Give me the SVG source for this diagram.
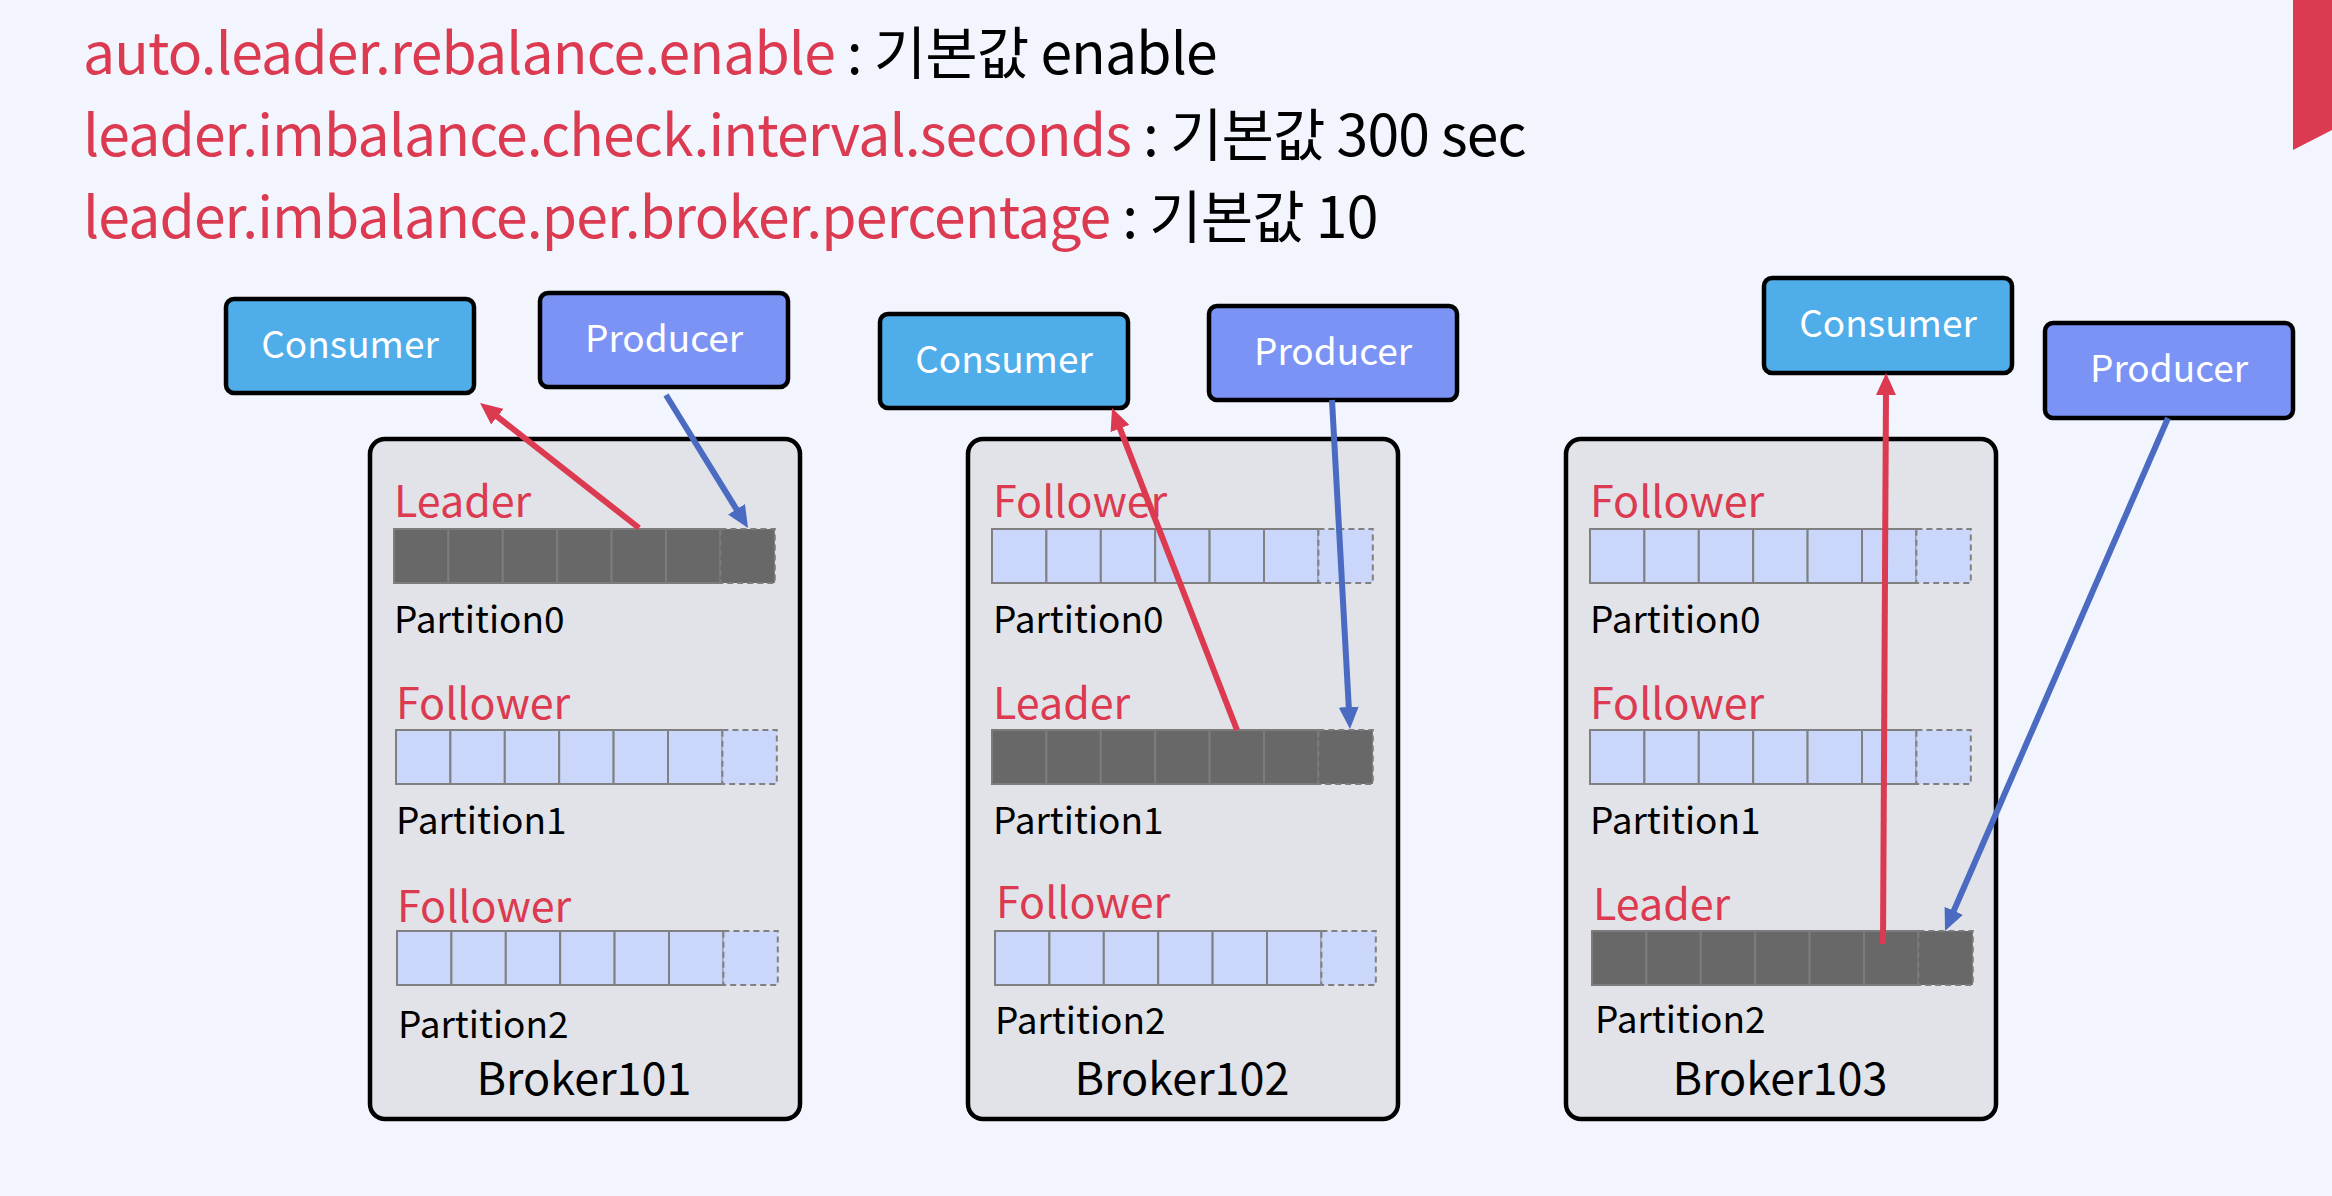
<svg xmlns="http://www.w3.org/2000/svg" width="2332" height="1196" viewBox="0 0 2332 1196">
<style>
text{font-family:"Noto Sans CJK KR","Noto Sans",sans-serif}
.title{font-size:57px;letter-spacing:-0.85px}
.red{fill:#DB3A50}
.blk{fill:#000}
.role{font-size:43px;fill:#DB3A50}
.part{font-size:37px;fill:#000}
.bname{font-size:45px;fill:#000;text-anchor:middle}
.broker{fill:#E2E3E8;stroke:#000;stroke-width:4.5}
.cons{fill:#4FADEA;stroke:#000;stroke-width:4.5}
.prod{fill:#7B93F5;stroke:#000;stroke-width:4.5}
.btxt{font-size:37px;fill:#fff;text-anchor:middle}
.lc{fill:#CAD7FA;stroke:#808080;stroke-width:2}
.dc{fill:#686868;stroke:#7C7C7C;stroke-width:2}
.ld{fill:#CAD7FA;stroke:#808080;stroke-width:2;stroke-dasharray:6 4}
.dd{fill:#686868;stroke:#7C7C7C;stroke-width:2;stroke-dasharray:6 4}
.ar{stroke:#DB3A50;stroke-width:6;fill:none}
.ab{stroke:#4A6BC1;stroke-width:6;fill:none}
</style>
<defs>
<marker id="mr" markerUnits="userSpaceOnUse" markerWidth="22" markerHeight="20" refX="6" refY="10" orient="auto"><path d="M0,0 L22,10 L0,20 z" fill="#DB3A50"/></marker>
<marker id="mb" markerUnits="userSpaceOnUse" markerWidth="22" markerHeight="20" refX="6" refY="10" orient="auto"><path d="M0,0 L22,10 L0,20 z" fill="#4A6BC1"/></marker>
<g id="lbar"><rect class="lc" x="0" y="0" width="54.4" height="54"/><rect class="lc" x="54.4" y="0" width="54.4" height="54"/><rect class="lc" x="108.8" y="0" width="54.4" height="54"/><rect class="lc" x="163.2" y="0" width="54.4" height="54"/><rect class="lc" x="217.6" y="0" width="54.4" height="54"/><rect class="lc" x="272" y="0" width="54.4" height="54"/><rect class="ld" x="326.4" y="0" width="54.4" height="54"/></g>
<g id="dbar"><rect class="dc" x="0" y="0" width="54.4" height="54"/><rect class="dc" x="54.4" y="0" width="54.4" height="54"/><rect class="dc" x="108.8" y="0" width="54.4" height="54"/><rect class="dc" x="163.2" y="0" width="54.4" height="54"/><rect class="dc" x="217.6" y="0" width="54.4" height="54"/><rect class="dc" x="272" y="0" width="54.4" height="54"/><rect class="dd" x="326.4" y="0" width="54.4" height="54"/></g>
</defs>
<rect x="0" y="0" width="2332" height="1196" fill="#F2F5FD"/>
<polygon points="2293,0 2332,0 2332,130 2293,150" fill="#DB3A50"/>
<g id="title">
<text class="title" x="83" y="74"><tspan class="red">auto.leader.rebalance.enable</tspan><tspan class="blk"> : 기본값 enable</tspan></text>
<text class="title" x="83" y="156"><tspan class="red">leader.imbalance.check.interval.seconds</tspan><tspan class="blk"> : 기본값 300 sec</tspan></text>
<text class="title" x="83" y="238"><tspan class="red">leader.imbalance.per.broker.percentage</tspan><tspan class="blk"> : 기본값 10</tspan></text>
</g>
<g id="broker101">
<rect class="broker" x="370" y="439" width="430" height="680" rx="15"/>
<text class="role" x="394" y="517">Leader</text>
<use href="#dbar" x="394" y="529"/>
<text class="part" x="394" y="633">Partition0</text>
<text class="role" x="396" y="719">Follower</text>
<use href="#lbar" x="396" y="730"/>
<text class="part" x="396" y="834">Partition1</text>
<text class="role" x="397" y="922">Follower</text>
<use href="#lbar" x="397" y="931"/>
<text class="part" x="398" y="1038">Partition2</text>
<text class="bname" x="584" y="1095">Broker101</text>
</g>
<g id="broker102">
<rect class="broker" x="968" y="439" width="430" height="680" rx="15"/>
<text class="role" x="993" y="517">Follower</text>
<use href="#lbar" x="992" y="529"/>
<text class="part" x="993" y="633">Partition0</text>
<text class="role" x="993" y="719">Leader</text>
<use href="#dbar" x="992" y="730"/>
<text class="part" x="993" y="834">Partition1</text>
<text class="role" x="996" y="918">Follower</text>
<use href="#lbar" x="995" y="931"/>
<text class="part" x="995" y="1034">Partition2</text>
<text class="bname" x="1182" y="1095">Broker102</text>
</g>
<g id="broker103">
<rect class="broker" x="1566" y="439" width="430" height="680" rx="15"/>
<text class="role" x="1590" y="517">Follower</text>
<use href="#lbar" x="1590" y="529"/>
<text class="part" x="1590" y="633">Partition0</text>
<text class="role" x="1590" y="719">Follower</text>
<use href="#lbar" x="1590" y="730"/>
<text class="part" x="1590" y="834">Partition1</text>
<text class="role" x="1593" y="920">Leader</text>
<use href="#dbar" x="1592" y="931"/>
<text class="part" x="1595" y="1033">Partition2</text>
<text class="bname" x="1780" y="1095">Broker103</text>
</g>
<g id="consumer1"><rect class="cons" x="226" y="299" width="248" height="94" rx="8"/><text class="btxt" x="350" y="358">Consumer</text></g>
<g id="producer1"><rect class="prod" x="540" y="293" width="248" height="94" rx="8"/><text class="btxt" x="664" y="352">Producer</text></g>
<g id="consumer2"><rect class="cons" x="880" y="314" width="248" height="94" rx="8"/><text class="btxt" x="1004" y="373">Consumer</text></g>
<g id="producer2"><rect class="prod" x="1209" y="306" width="248" height="94" rx="8"/><text class="btxt" x="1333" y="365">Producer</text></g>
<g id="consumer3"><rect class="cons" x="1764" y="278" width="248" height="95" rx="8"/><text class="btxt" x="1888" y="337">Consumer</text></g>
<g id="producer3"><rect class="prod" x="2045" y="323" width="248" height="95" rx="8"/><text class="btxt" x="2169" y="382">Producer</text></g>
<g id="connectors">
<line class="ar" x1="639" y1="528" x2="492.6" y2="412.9" marker-end="url(#mr)"/>
<line class="ab" x1="666" y1="395" x2="739.6" y2="514.4" marker-end="url(#mb)"/>
<line class="ar" x1="1237" y1="730" x2="1117.8" y2="422.9" marker-end="url(#mr)"/>
<line class="ab" x1="1332" y1="400" x2="1349.1" y2="713" marker-end="url(#mb)"/>
<line class="ar" x1="1883" y1="944" x2="1886" y2="389" marker-end="url(#mr)"/>
<line class="ab" x1="2168" y1="418" x2="1951.4" y2="916.3" marker-end="url(#mb)"/>
</g>
</svg>
